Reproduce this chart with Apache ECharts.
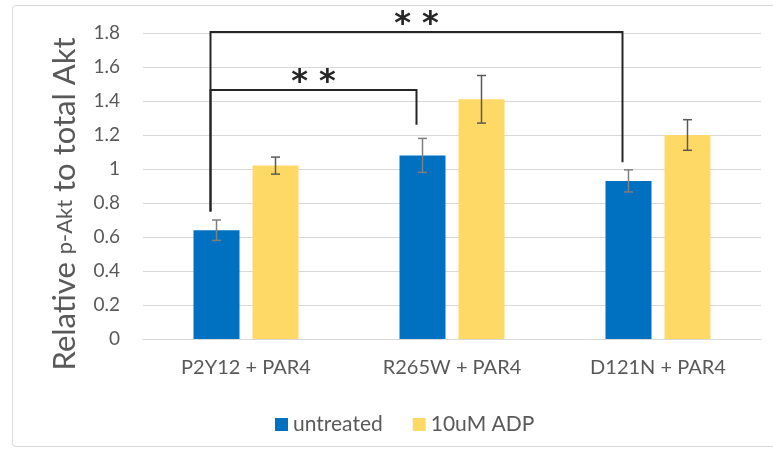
<!DOCTYPE html>
<html>
<head>
<meta charset="utf-8">
<script src="https://cdn.jsdelivr.net/npm/echarts@6/dist/echarts.min.js"></script>
<style>html,body{margin:0;padding:0;background:#fff}#c{width:773px;height:455px}</style>
</head>
<body>
<div id="c"></div>
<script>
// ---- data ----
var categories = ['P2Y12 + PAR4', 'R265W + PAR4', 'D121N + PAR4'];
var seriesNames = ['untreated', '10uM ADP'];
var untreated = [0.64, 1.08, 0.93];
var untreatedErr = [0.06, 0.10, 0.065];
var adp = [1.02, 1.41, 1.20];
var adpErr = [0.05, 0.14, 0.09];
var yTicks = [0, 0.2, 0.4, 0.6, 0.8, 1, 1.2, 1.4, 1.6, 1.8];
// significance brackets: [fromCategory, toCategory, barY, leftEndY, rightEndY, label]
var brackets = [
  [0, 1, 1.465, 0.75, 1.26, '* *'],
  [0, 2, 1.806, 0.75, 1.04, '* *']
];

// ---- styles ----
var FONT = 'Lato';
var BAR_W = 46, BAR_GAP = 13;
var HALF = (BAR_W + BAR_GAP) / 2;
var chart = echarts.init(document.getElementById('c'), null, {renderer: 'canvas'});

function errSeries(vals, errs, offset, color) {
  return {
    type: 'custom',
    z: 5,
    data: vals.map(function (v, i) { return [i, v, errs[i]]; }),
    renderItem: function (params, api) {
      var i = api.value(0), v = api.value(1), e = api.value(2);
      var top = api.coord([i, v + e]);
      var bot = api.coord([i, v - e]);
      var x = top[0] + offset;
      var st = {stroke: color, lineWidth: 1.5};
      return {type: 'group', children: [
        {type: 'line', shape: {x1: x, y1: top[1], x2: x, y2: bot[1]}, style: st},
        {type: 'line', shape: {x1: x - 4.5, y1: top[1], x2: x + 4.5, y2: top[1]}, style: st},
        {type: 'line', shape: {x1: x - 4.5, y1: bot[1], x2: x + 4.5, y2: bot[1]}, style: st}
      ]};
    }
  };
}

var option = {
  animation: false,
  textStyle: {fontFamily: FONT},
  grid: {left: 143, right: 12, top: 33, bottom: 116},
  legend: {
    data: seriesNames,
    left: 270, top: 409,
    icon: 'rect', itemWidth: 13, itemHeight: 13, itemGap: 30,
    textStyle: {fontFamily: FONT, fontSize: 21, color: '#595959'}
  },
  xAxis: {
    type: 'category', data: categories,
    axisLine: {lineStyle: {color: '#d9d9d9', width: 1}},
    axisTick: {show: false},
    axisLabel: {fontFamily: FONT, fontSize: 20, color: '#595959', margin: 19}
  },
  yAxis: {
    type: 'value', min: 0, max: 1.8, interval: 0.2,
    axisLine: {show: false}, axisTick: {show: false},
    splitLine: {lineStyle: {color: '#d9d9d9', width: 1}},
    axisLabel: {fontFamily: FONT, fontSize: 19, color: '#595959', margin: 23,
      formatter: function (v) { var t = yTicks.filter(function (k) { return Math.abs(k - v) < 1e-9; }); return t.length ? String(t[0]) : ''; }}
  },
  series: [
    {name: seriesNames[0], type: 'bar', data: untreated, barWidth: BAR_W, barGap: (BAR_GAP / BAR_W * 100) + '%',
      itemStyle: {color: '#0070C0'}},
    {name: seriesNames[1], type: 'bar', data: adp, barWidth: BAR_W,
      itemStyle: {color: '#FFD966'}},
    errSeries(untreated, untreatedErr, -HALF, '#7f7f7f'),
    errSeries(adp, adpErr, HALF, '#595959'),
    {
      type: 'custom', z: 6, clip: false,
      data: brackets,
      renderItem: function (params, api) {
        var b = brackets[params.dataIndex];
        var off = -HALF - 6;
        var pL = api.coord([b[0], b[2]]);
        var pR = api.coord([b[1], b[2]]);
        var eL = api.coord([b[0], b[3]]);
        var eR = api.coord([b[1], b[4]]);
        var xL = pL[0] + off, xR = pR[0] + off;
        return {type: 'group', children: [
          {type: 'polyline', shape: {points: [[xL, eL[1]], [xL, pL[1]], [xR, pL[1]], [xR, eR[1]]]},
            style: {stroke: '#262626', lineWidth: 2, fill: null}},
          {type: 'text', x: (xL + xR) / 2, y: pL[1] + 9,
            style: {text: b[5], fontFamily: 'DejaVu Sans', fontWeight: 'bold', fontSize: 32, fill: '#262626',
              align: 'center', verticalAlign: 'bottom'}}
        ]};
      }
    }
  ],
  graphic: [
    {type: 'rect', shape: {x: 12.5, y: 5.5, width: 775, height: 441, r: 3},
      style: {fill: null, stroke: '#d9d9d9', lineWidth: 1}, z: -10},
    {type: 'text', x: 65, y: 204, rotation: Math.PI / 2,
      style: {
        text: '{a|Relative }{b|p-Akt}{a| to total Akt}',
        align: 'center', verticalAlign: 'middle',
        rich: {
          a: {fontFamily: FONT, fontSize: 31, fill: '#595959', color: '#595959'},
          b: {fontFamily: FONT, fontSize: 22, fill: '#595959', color: '#595959'}
        }
      }}
  ]
};
chart.setOption(option);
</script>
</body>
</html>
